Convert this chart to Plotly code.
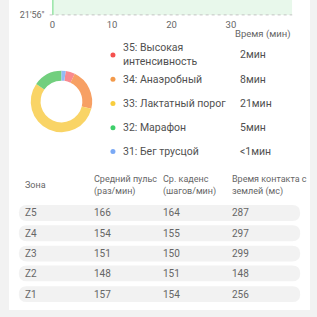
import plotly.graph_objects as go

# ---- data ----
time_min = [0, 40.3]
pace_top = [1.5, 1.5]           # area continues above visible window
pace_tick_vals = [0]
pace_tick_text = ["21'56\""]
x_ticks = [0, 10, 20, 30]

zone_labels = ["35: Высокая<br>интенсивность", "34: Анаэробный", "33: Лактатный порог",
               "32: Марафон", "31: Бег трусцой"]
zone_times = ["2мин", "8мин", "21мин", "5мин", "<1мин"]
zone_minutes = [1.8, 7.9, 20.4, 5.6, 0.8]
pie_colors = ["#f98a8f", "#f7a064", "#f9d466", "#72cf7e", "#93bbf5"]
dot_colors = ["#f5504e", "#f39a4b", "#f8cd3d", "#3ecf6a", "#7aa9f5"]

table_header = ["Зона", "Средний пульс<br>(раз/мин)", "Ср. каденс<br>(шагов/мин)",
                "Время контакта с<br>землей (мс)"]
table_zone = ["Z5", "Z4", "Z3", "Z2", "Z1"]
avg_hr = [166, 154, 151, 148, 157]
cadence = [164, 155, 150, 151, 154]
contact_ms = [287, 297, 299, 148, 256]

W = H = 317
FONT = "Roboto"
TXT = "#505050"

fig = go.Figure()

# ---- top pace chart (partially visible) ----
fig.add_trace(go.Scatter(x=time_min, y=pace_top, mode="lines", line=dict(width=0),
                         fill="tozeroy", fillcolor="#e8f8eb", hoverinfo="skip",
                         xaxis="x", yaxis="y", showlegend=False))
fig.add_trace(go.Scatter(x=[time_min[0], time_min[0]], y=[0, pace_top[0]], mode="lines",
                         line=dict(color="#3fcf5a", width=1.5), hoverinfo="skip",
                         xaxis="x", yaxis="y", showlegend=False))

# ---- donut ----
cx, cy, r = 59, 102.5, 31
fig.add_trace(go.Pie(values=zone_minutes, marker=dict(colors=pie_colors, line=dict(width=0)),
                     hole=0.68, sort=False, direction="clockwise", rotation=8,
                     textinfo="none", hoverinfo="skip", showlegend=False,
                     domain=dict(x=[(cx - r) / W, (cx + r) / W],
                                 y=[1 - (cy + r) / H, 1 - (cy - r) / H])))

# ---- legend dots (overlay axis in pixel coords) ----
legend_y = [55.5, 80, 104.5, 129, 153]
fig.add_trace(go.Scatter(x=[111] * len(zone_labels), y=legend_y, mode="markers",
                         marker=dict(color=dot_colors, size=5), hoverinfo="skip",
                         xaxis="x2", yaxis="y2", showlegend=False))

ann = []
for lab, t, yy in zip(zone_labels, zone_times, legend_y):
    ann.append(dict(x=119, y=yy, text=lab, xanchor="left", yanchor="middle", align="left",
                    font=dict(size=10.5, color=TXT)))
    ann.append(dict(x=237, y=yy, text=t, xanchor="left", yanchor="middle",
                    font=dict(size=10.5, color=TXT)))

ann.append(dict(x=292, y=34, text="Время (мин)", xanchor="right", yanchor="middle",
                font=dict(size=9.5, color="#666666")))

# table header
col_x = [20, 90, 160, 229]
for h, xx in zip(table_header, col_x):
    ann.append(dict(x=xx, y=187, text=h, xanchor="left", yanchor="middle", align="left",
                    font=dict(size=9, color="#666666")))

shapes = []
# card
shapes.append(dict(type="rect", xref="paper", yref="paper", x0=6 / W, x1=310 / W,
                   y0=1 - 313 / H, y1=1.05,
                   fillcolor="white", line=dict(width=0), layer="below"))
# dashed baseline of the pace chart
shapes.append(dict(type="line", xref="x domain", yref="y", x0=-0.012, x1=1, y0=0, y1=0,
                   line=dict(color="#c4c4c4", width=1, dash="3px,3px"), layer="above"))
row_y = [215, 235.5, 256, 276, 297]
for i, yy in enumerate(row_y):
    x0, x1, h = 16, 300, 16
    rr = h / 2
    y0, y1 = yy - rr, yy + rr
    path = (f"M {x0+rr},{y0} L {x1-rr},{y0} Q {x1},{y0} {x1},{yy} Q {x1},{y1} {x1-rr},{y1} "
            f"L {x0+rr},{y1} Q {x0},{y1} {x0},{yy} Q {x0},{y0} {x0+rr},{y0} Z")
    shapes.append(dict(type="path", xref="x2", yref="y2", path=path, fillcolor="#f2f2f2",
                       line=dict(width=0), layer="below"))
    vals = [table_zone[i], avg_hr[i], cadence[i], contact_ms[i]]
    for v, xx in zip(vals, col_x):
        ann.append(dict(x=xx, y=yy, text=str(v), xanchor="left", yanchor="middle",
                        font=dict(size=10, color="#666666")))

for a in ann:
    a.update(xref="x2", yref="y2", showarrow=False)

fig.update_layout(
    width=W, height=H, margin=dict(l=0, r=0, t=0, b=0),
    paper_bgcolor="#f2f2f2", plot_bgcolor="rgba(0,0,0,0)",
    font=dict(family=FONT, color=TXT),
    annotations=ann, shapes=shapes,
    xaxis=dict(domain=[50 / W, 292 / W], range=[time_min[0], time_min[1]], tickvals=x_ticks,
               showgrid=False, zeroline=False, showline=False, ticks="",
               ticklabelstandoff=1,
               tickfont=dict(size=9.5, color="#666666"), anchor="y", fixedrange=True),
    yaxis=dict(domain=[1 - 17 / H, 1], range=[-0.13, 1], tickvals=pace_tick_vals,
               ticktext=pace_tick_text, showgrid=False, zeroline=False, showline=False,
               ticks="", ticklabelstandoff=7,
               tickfont=dict(size=9, color="#666666"), anchor="x", fixedrange=True),
    xaxis2=dict(domain=[0, 1], range=[0, W], visible=False, anchor="y2", fixedrange=True),
    yaxis2=dict(domain=[0, 1], range=[H, 0], visible=False, anchor="x2", fixedrange=True),
)

fig.write_html("out.html", config={"displayModeBar": False})
